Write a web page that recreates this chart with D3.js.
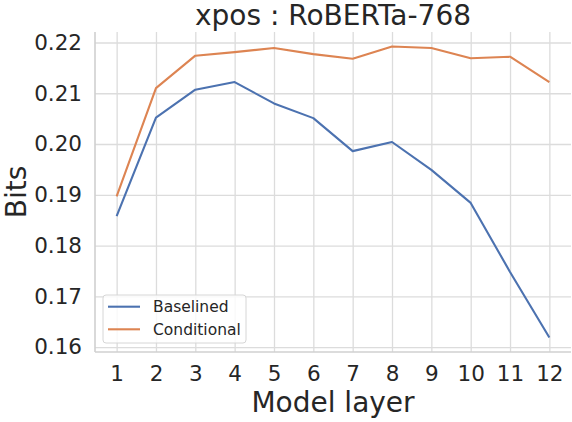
<!DOCTYPE html>
<html>
<head>
<meta charset="utf-8">
<script src="https://cdn.jsdelivr.net/npm/d3@7"></script>
<style>
  body { margin: 0; background: #fff; }
  svg text { font-family: "DejaVu Sans", sans-serif; fill: #262626; }
</style>
</head>
<body>
<script>
// data
const layers = [1, 2, 3, 4, 5, 6, 7, 8, 9, 10, 11, 12]
const baselined = [0.1858, 0.2052, 0.2107, 0.2122, 0.2080, 0.2051, 0.1986, 0.2004, 0.1949, 0.1884, 0.1748, 0.1619]
const conditional = [0.1897, 0.2110, 0.2174, 0.2181, 0.2189, 0.2177, 0.2168, 0.2192, 0.2189, 0.2169, 0.2172, 0.2122]
const yTicks = [0.16, 0.17, 0.18, 0.19, 0.20, 0.21, 0.22]
const seriesNames = ["Baselined", "Conditional"]
const colors = ["#4c72b0", "#dd8452"]

const WIDTH = 572
const HEIGHT = 422
const mLeft = 95, mRight = 571, mTop = 32, mBottom = 352

const svg = d3.select("body").append("svg")
  .attr("width", WIDTH).attr("height", HEIGHT)

// matplotlib style 5% margins
const x = d3.scaleLinear().domain([0.45, 12.55]).range([mLeft, mRight])
const allVals = baselined.concat(conditional)
const yMin = d3.min(allVals), yMax = d3.max(allVals)
const pad = (yMax - yMin) * 0.05
const y = d3.scaleLinear().domain([yMin - pad, yMax + pad]).range([mBottom, mTop])

// grid
svg.append("g")
  .attr("transform", "translate(0," + mBottom + ")")
  .call(d3.axisBottom(x).tickValues(layers).tickSize(-(mBottom - mTop)).tickFormat(""))
  .call(g => g.select(".domain").remove())
  .call(g => g.selectAll("line").attr("stroke", "#dcdcdc").attr("stroke-width", 1.3))

svg.append("g")
  .attr("transform", "translate(" + mLeft + ",0)")
  .call(d3.axisLeft(y).tickValues(yTicks).tickSize(-(mRight - mLeft)).tickFormat(""))
  .call(g => g.select(".domain").remove())
  .call(g => g.selectAll("line").attr("stroke", "#dcdcdc").attr("stroke-width", 1.3))

// spines left + bottom
svg.append("line").attr("x1", mLeft).attr("x2", mLeft).attr("y1", mTop).attr("y2", mBottom)
  .attr("stroke", "#d0d0d0").attr("stroke-width", 1.6)
svg.append("line").attr("x1", mLeft).attr("x2", mRight).attr("y1", mBottom).attr("y2", mBottom)
  .attr("stroke", "#d0d0d0").attr("stroke-width", 1.6)

// tick labels
svg.append("g")
  .attr("transform", "translate(0," + mBottom + ")")
  .call(d3.axisBottom(x).tickValues(layers).tickSize(0).tickPadding(14).tickFormat(d3.format("d")))
  .call(g => g.select(".domain").remove())
  .call(g => g.selectAll("text").attr("font-size", 21.5).attr("font-family", "DejaVu Sans").attr("fill", "#262626"))

svg.append("g")
  .attr("transform", "translate(" + mLeft + ",0)")
  .call(d3.axisLeft(y).tickValues(yTicks).tickSize(0).tickPadding(13).tickFormat(d3.format(".2f")))
  .call(g => g.select(".domain").remove())
  .call(g => g.selectAll("text").attr("font-size", 21.5).attr("font-family", "DejaVu Sans").attr("fill", "#262626"))

// lines
const line = d3.line().x((d, i) => x(layers[i])).y(d => y(d))
const series = [baselined, conditional]
series.forEach(function(s, k) {
  svg.append("path").datum(s)
    .attr("fill", "none")
    .attr("stroke", colors[k])
    .attr("stroke-width", 2.1)
    .attr("stroke-linejoin", "round")
    .attr("d", line)
})

// title + axis labels
svg.append("text").attr("x", (mLeft + mRight) / 2).attr("y", 25)
  .attr("text-anchor", "middle").attr("font-size", 28).text("xpos : RoBERTa-768")
svg.append("text").attr("x", (mLeft + mRight) / 2).attr("y", 412)
  .attr("text-anchor", "middle").attr("font-size", 28).text("Model layer")
svg.append("text")
  .attr("transform", "translate(25.5," + ((mTop + mBottom) / 2) + ") rotate(-90)")
  .attr("text-anchor", "middle").attr("font-size", 28).text("Bits")

// legend
const lg = svg.append("g")
lg.append("rect").attr("x", 103).attr("y", 295).attr("width", 143).attr("height", 48)
  .attr("rx", 3).attr("fill", "#fff").attr("fill-opacity", 0.8)
  .attr("stroke", "#d6d6d6").attr("stroke-width", 1)
seriesNames.forEach(function(name, k) {
  const yy = 306.7 + k * 22.6
  lg.append("line").attr("x1", 108).attr("x2", 140).attr("y1", yy).attr("y2", yy)
    .attr("stroke", colors[k]).attr("stroke-width", 2.1)
  lg.append("text").attr("x", 153).attr("y", yy + 5.5).attr("font-size", 15.5).text(name)
})
</script>
</body>
</html>
